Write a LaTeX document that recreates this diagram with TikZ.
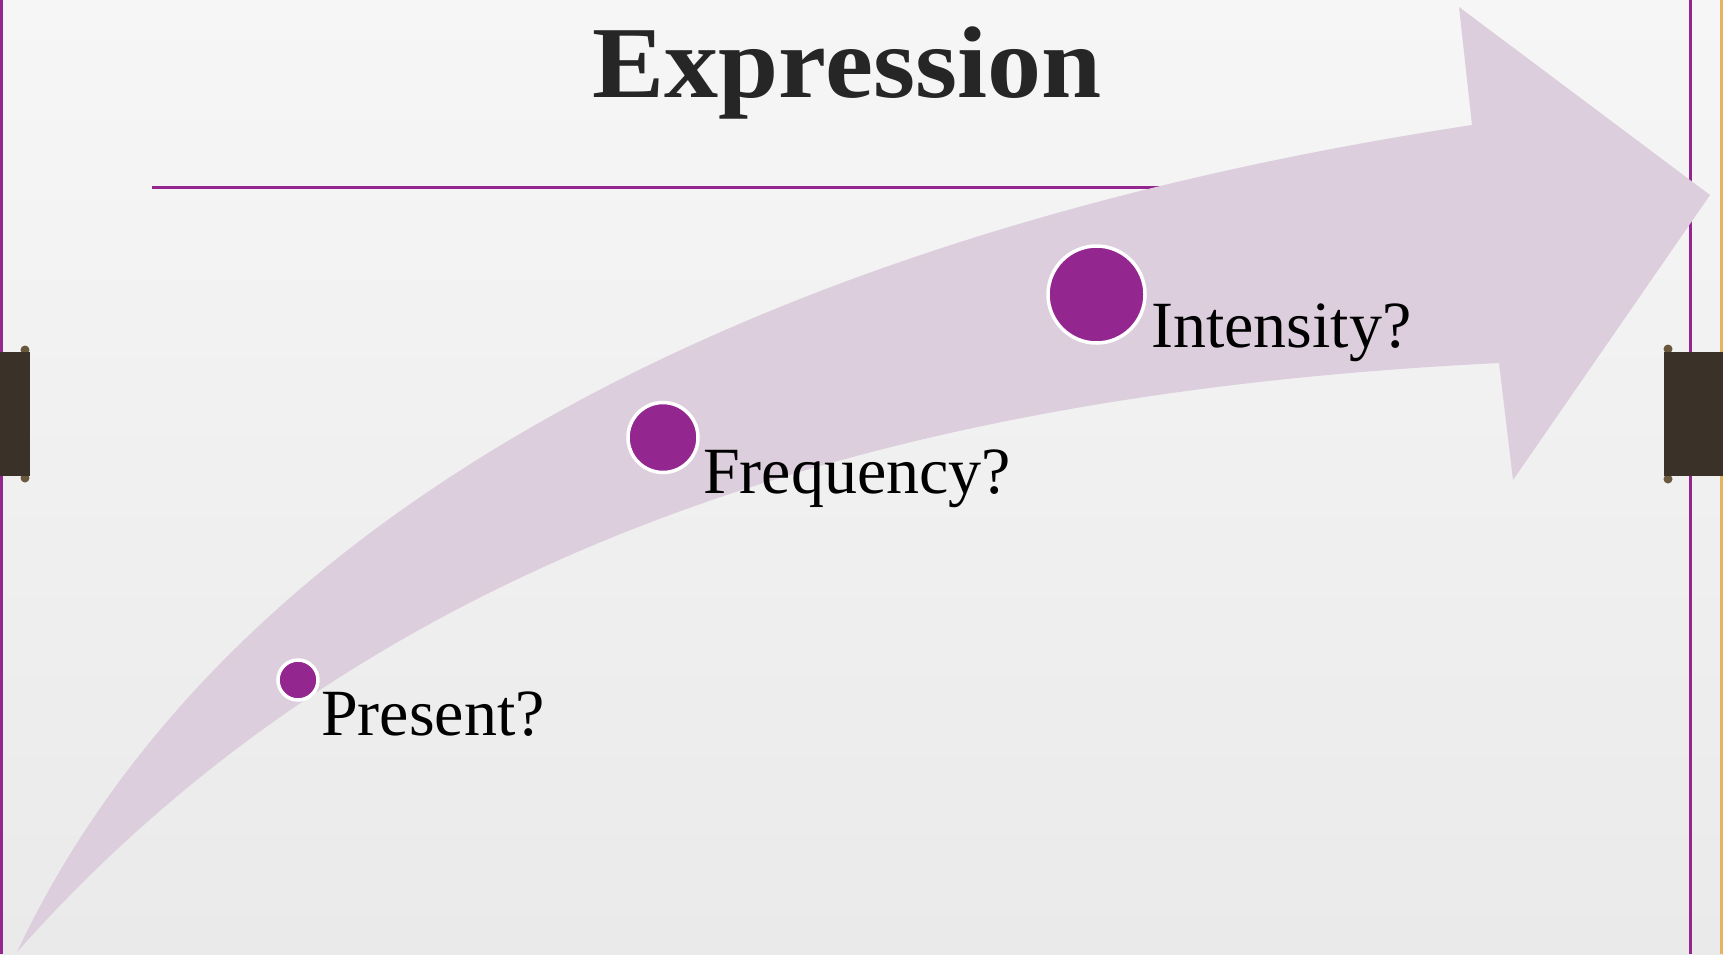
\documentclass[tikz,border=0pt]{standalone}
\usepackage{fontspec}
\setmainfont{Liberation Serif}
\definecolor{bgtop}{RGB}{246,246,246}
\definecolor{bgbot}{RGB}{234,234,234}
\definecolor{purp}{RGB}{147,39,143}
\definecolor{arrowfill}{RGB}{220,206,220}
\definecolor{tabdark}{RGB}{58,50,41}
\definecolor{tabknob}{RGB}{105,88,62}
\definecolor{tan}{RGB}{228,180,100}
\definecolor{titlecol}{RGB}{38,38,38}
\tikzset{
  dot/.style={circle,fill=purp,draw=white,line width=3.5pt,inner sep=0pt},
  label/.style={anchor=base west,inner sep=0pt,font=\fontsize{66}{66}\selectfont,text=black},
}
\begin{document}
\begin{tikzpicture}[x=1pt,y=-1pt]
\useasboundingbox (0,0) rectangle (1723,954);
% background
\shade[top color=bgtop,bottom color=bgbot] (0,0) rectangle (1723,954);
% border lines
\draw[purp,line width=3pt] (1.5,0) -- (1.5,954);
\draw[purp,line width=3pt] (1690,0) -- (1690,954);
\draw[tan,line width=2.5pt] (1721.5,0) -- (1721.5,954);
% tabs
\fill[tabknob] (25,350) circle (4.5);
\fill[tabknob] (25,478) circle (4.5);
\fill[tabdark] (0,352) rectangle (30,476);
\fill[tabknob] (1668,349) circle (4.5);
\fill[tabknob] (1668,479) circle (4.5);
\fill[tabdark] (1664,352) rectangle (1723,476);
% title
\node[anchor=base,inner sep=0pt,xscale=1.06,font=\bfseries\fontsize{102}{102}\selectfont,text=titlecol] (title) at (847,97) {Expression};
\draw[purp,line width=3pt] (152,187) -- (1300,187);
% arrow
\fill[arrowfill] (17,952) .. controls (230,500) and (780,230) .. (1472,125)
  -- (1459,7) -- (1710,195) -- (1513,480) -- (1499,363)
  .. controls (950,390) and (400,520) .. (17,952) -- cycle;
% dots
\node[dot,minimum size=40pt] (d1) at (298,680) {};
\node[dot,minimum size=70pt] (d2) at (663,437.5) {};
\node[dot,minimum size=97pt] (d3) at (1096.5,294.5) {};
% labels
\node[label] (t1) at (321,735) {Present?};
\node[label] (t2) at (703,493) {Frequency?};
\node[label] (t3) at (1151,347) {Intensity?};
\end{tikzpicture}
\end{document}
